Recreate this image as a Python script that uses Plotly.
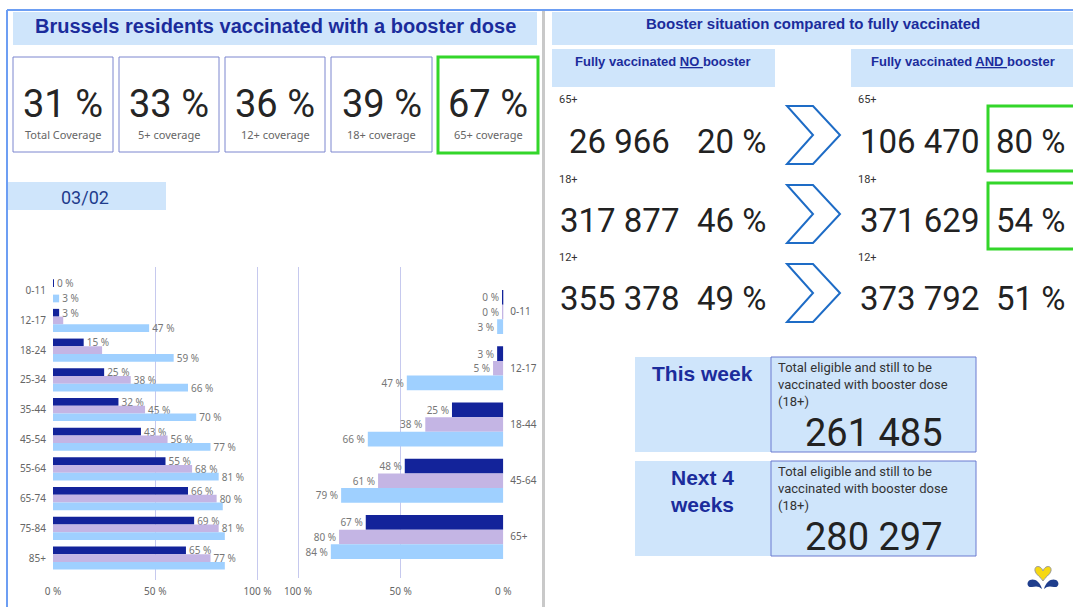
import plotly.graph_objects as go

# ---------------- data ----------------
kpi_values = [31, 33, 36, 39, 67]
kpi_labels = ["Total Coverage", "5+ coverage", "12+ coverage", "18+ coverage", "65+ coverage"]
report_date = "03/02"

left_cats = ["0-11", "12-17", "18-24", "25-34", "35-44", "45-54", "55-64", "65-74", "75-84", "85+"]
left_dark = [0.4, 3, 15, 25, 32, 43, 55, 66, 69, 65]
left_lav = [None, 5, 24, 38, 45, 56, 68, 80, 81, 77]
left_light = [3, 47, 59, 66, 70, 77, 81, 83, 84, 84]

right_cats = ["0-11", "12-17", "18-44", "45-64", "65+"]
right_dark = [0.3, 3, 25, 48, 67]
right_lav = [0.2, 5, 38, 61, 80]
right_light = [3, 47, 66, 79, 84]

x_ticks = [0, 50, 100]

row_groups = ["65+", "18+", "12+"]
no_booster_n = [26966, 317877, 355378]
no_booster_pct = [20, 46, 49]
booster_n = [106470, 371629, 373792]
booster_pct = [80, 54, 51]

this_week_total = 261485
next4_total = 280297

# label visibility (style)
left_lav_show = [False, False, False, True, True, True, True, True, True, True]
left_light_show = [True, True, True, True, True, True, True, False, False, False]

# ---------------- helpers ----------------
W, H = 1073, 607
PANEL = "#cfe5fb"
NAVY = "#1b2c9c"
DARK = "#13239a"
LAV = "#c4b5e4"
LIGHT = "#9fd0ff"
GRID = "#c6c9ee"
NUMFONT = "Roboto"


def X(x):
    return x / W


def Y(y):
    return 1 - y / H


def fmt_n(n):
    return f"{n:,}".replace(",", " ")


def lbl(vals, show=None):
    out = []
    for i, v in enumerate(vals):
        if v is None or (show is not None and not show[i]):
            out.append("")
        else:
            out.append(f"{round(v)} %")
    return out


shapes = []
annotations = []


def rect(x0, y0, x1, y1, fill=None, line=None, lw=1):
    shapes.append(dict(type="rect", xref="paper", yref="paper",
                       x0=X(x0), x1=X(x1), y0=Y(y1), y1=Y(y0),
                       fillcolor=fill if fill else "rgba(0,0,0,0)",
                       line=dict(color=line if line else "rgba(0,0,0,0)", width=lw if line else 0),
                       layer="below" if (fill and not line) else "above"))


def seg(x0, y0, x1, y1, color, lw):
    shapes.append(dict(type="line", xref="paper", yref="paper",
                       x0=X(x0), x1=X(x1), y0=Y(y0), y1=Y(y1),
                       line=dict(color=color, width=lw)))


def pt(p):
    return f"{X(p[0]):.5f},{Y(p[1]):.5f}"


def poly(points, color=None, fill=None, lw=2):
    d = "M " + pt(points[0]) + " " + " ".join("L " + pt(p) for p in points[1:]) + " Z"
    shapes.append(dict(type="path", xref="paper", yref="paper", path=d,
                       fillcolor=fill if fill else "rgba(0,0,0,0)",
                       line=dict(color=color if color else "rgba(0,0,0,0)", width=lw if color else 0)))


def curve(start, segs, color=None, fill=None, lw=1):
    d = "M " + pt(start)
    for c1, c2, e in segs:
        d += " C " + pt(c1) + " " + pt(c2) + " " + pt(e)
    d += " Z"
    shapes.append(dict(type="path", xref="paper", yref="paper", path=d,
                       fillcolor=fill if fill else "rgba(0,0,0,0)",
                       line=dict(color=color if color else "rgba(0,0,0,0)", width=lw if color else 0)))


def text(x, y, s, size, color="#222", family=NUMFONT, xanchor="center", yanchor="middle", align="center"):
    annotations.append(dict(xref="paper", yref="paper", x=X(x), y=Y(y), text=s,
                            showarrow=False, xanchor=xanchor, yanchor=yanchor, align=align,
                            font=dict(size=size, color=color, family=family)))


# ---------------- frame ----------------
seg(7, 10, 7, 607, "#6d9ef3", 2)
seg(7, 10, 1073, 10, "#6d9ef3", 2)
seg(543.5, 11, 543.5, 607, "#c9c9c9", 3)

# ---------------- left header ----------------
rect(13, 12, 537, 45, fill=PANEL)
text(275, 26, "<b>Brussels residents vaccinated with a booster dose</b>", 20, NAVY, "Liberation Sans")

box_x = [(13, 113), (119, 219), (225, 325), (331, 432), (438, 538)]
for i, (x0, x1) in enumerate(box_x):
    if i == 4:
        rect(x0, 57, x1, 153, line="#33d62a", lw=3)
    else:
        rect(x0, 57, x1, 152, line="#7c86cf", lw=1)
    cx = (x0 + x1) / 2
    text(cx, 104, f"{kpi_values[i]} %", 38, "#252525")
    text(cx, 135, kpi_labels[i], 11, "#666", "Noto Sans")

rect(8, 182, 166, 210, fill=PANEL)
text(85, 197, report_date, 18, "#1f3c8c")

# ---------------- right header ----------------
rect(552, 12, 1073, 45, fill=PANEL)
text(813, 23, "<b>Booster situation compared to fully vaccinated</b>", 15, NAVY, "Liberation Sans")
rect(552, 49, 775, 87, fill=PANEL)
text(663, 61, "<b>Fully vaccinated <u>NO </u>booster</b>", 13, NAVY, "Liberation Sans")
rect(851, 49, 1073, 87, fill=PANEL)
text(963, 61, "<b>Fully vaccinated <u>AND </u>booster</b>", 13, NAVY, "Liberation Sans")

row_label_y = [100, 179, 257]
row_num_y = [141, 220, 298]
chev_mid = [135, 214, 293]
for i in range(3):
    text(557, row_label_y[i], row_groups[i], 11, "#333", NUMFONT, xanchor="left")
    text(856, row_label_y[i], row_groups[i], 11, "#333", NUMFONT, xanchor="left")
    text(619, row_num_y[i], fmt_n(no_booster_n[i]), 33, "#222")
    text(731, row_num_y[i], f"{no_booster_pct[i]} %", 33, "#222")
    text(919, row_num_y[i], fmt_n(booster_n[i]), 33, "#222")
    text(1030, row_num_y[i], f"{booster_pct[i]} %", 33, "#222")
    m = chev_mid[i]
    poly([(787, m - 29), (813, m - 29), (840, m), (813, m + 29), (787, m + 29), (813, m)],
         color="#1e6cc6", lw=2)

rect(988, 106, 1076, 171, line="#33d62a", lw=3)
rect(988, 183, 1076, 249, line="#33d62a", lw=3)

# ---------------- bottom right boxes ----------------
desc = "Total eligible and still to be<br>vaccinated with booster dose<br>(18+)"
for (y0, y1, title, total, ty) in [(357, 452, "<b>This week</b>", this_week_total, 373),
                                   (461, 556, "<b>Next 4<br>weeks</b>", next4_total, 491)]:
    rect(635, y0, 771, y1, fill=PANEL)
    rect(771, y0, 976, y1, fill=PANEL)
    rect(771, y0, 976, y1, line="#6a7bd0", lw=1)
    text(702, ty, title, 21, NAVY, "Liberation Sans")
    text(776, y0 + 1, desc, 13, "#333", NUMFONT, xanchor="left", yanchor="top", align="left")
    text(874, y1 - 19, fmt_n(total), 38, "#222")

# ---------------- logo ----------------
curve((1043, 571), [((1041, 565), (1034, 565), (1035, 571)),
                    ((1036, 575), (1041, 577), (1043, 581)),
                    ((1045, 577), (1050, 575), (1051, 571)),
                    ((1052, 565), (1045, 565), (1043, 571))],
      color="#9a9a9a", fill="#f6d812", lw=1)
curve((1042, 589), [((1040, 581), (1034, 578), (1030, 580)),
                    ((1026, 582), (1027, 588), (1032, 587)),
                    ((1036, 586), (1039, 586), (1042, 589))],
      fill="#1f3e8d")
curve((1044, 589), [((1046, 581), (1052, 578), (1056, 580)),
                    ((1060, 582), (1059, 588), (1054, 587)),
                    ((1050, 586), (1047, 586), (1044, 589))],
      fill="#1f3e8d")

# ---------------- bar charts ----------------
fig = go.Figure()
tick_font = dict(size=10, color="#666", family="Noto Sans")
lab_font = dict(size=10, color="#777", family="Noto Sans")

for vals, col, show in [(left_dark, DARK, None), (left_lav, LAV, left_lav_show), (left_light, LIGHT, left_light_show)]:
    fig.add_trace(go.Bar(y=left_cats, x=vals, orientation="h", marker=dict(color=col, line=dict(width=0)),
                         text=lbl(vals, show), textposition="outside", textfont=lab_font,
                         constraintext="none", cliponaxis=False, xaxis="x", yaxis="y", hoverinfo="skip"))

for vals, col in [(right_dark, DARK), (right_lav, LAV), (right_light, LIGHT)]:
    fig.add_trace(go.Bar(y=right_cats, x=vals, orientation="h", marker=dict(color=col, line=dict(width=0)),
                         text=lbl(vals), textposition="outside", textfont=lab_font,
                         constraintext="none", cliponaxis=False, xaxis="x2", yaxis="y2", hoverinfo="skip"))

tick_text = [f"{t} %" for t in x_ticks]
fig.update_layout(
    template="none",
    width=W, height=H, autosize=False,
    margin=dict(l=0, r=0, t=0, b=0, pad=0, autoexpand=False),
    paper_bgcolor="white", plot_bgcolor="white",
    showlegend=False, barmode="group", bargap=0.22, bargroupgap=0,
    xaxis=dict(domain=[X(53), X(278)], range=[0, 110], tickvals=x_ticks, ticktext=tick_text,
               showgrid=True, gridcolor=GRID, gridwidth=1, zeroline=False, showline=False,
               tickfont=tick_font, anchor="y", fixedrange=True, automargin=False, ticks="",
               ticklabelstandoff=4),
    yaxis=dict(domain=[Y(580), Y(267)], type="category", categoryarray=left_cats,
               range=[9.74, -0.8], showgrid=False, zeroline=False, showline=False,
               tickfont=tick_font, ticks="", ticklabelstandoff=6, anchor="x", automargin=False),
    xaxis2=dict(domain=[X(290), X(503.3)], range=[103.9, 0], tickvals=x_ticks, ticktext=tick_text,
                showgrid=True, gridcolor=GRID, gridwidth=1, zeroline=False, showline=False,
                tickfont=tick_font, anchor="y2", automargin=False, ticks="", ticklabelstandoff=6),
    yaxis2=dict(domain=[Y(578), Y(267)], type="category", categoryarray=right_cats,
                range=[4.73, -0.8], showgrid=False, zeroline=False, showline=False, side="right",
                tickfont=tick_font, ticks="", ticklabelstandoff=6, anchor="x2", automargin=False),
    shapes=shapes, annotations=annotations,
)

fix_js = (
    "var h=document.documentElement;h.style.margin='0';h.style.padding='0';h.style.overflow='hidden';"
    "document.body.style.margin='0';document.body.style.padding='0';document.body.style.overflow='hidden';"
    "var g=document.querySelector('.plotly-graph-div');"
    "if(g){g.style.position='absolute';g.style.left='0px';g.style.top='0px';g.style.margin='0';}"
)
fig.write_html("out.html", config={"displayModeBar": False}, post_script=fix_js)
